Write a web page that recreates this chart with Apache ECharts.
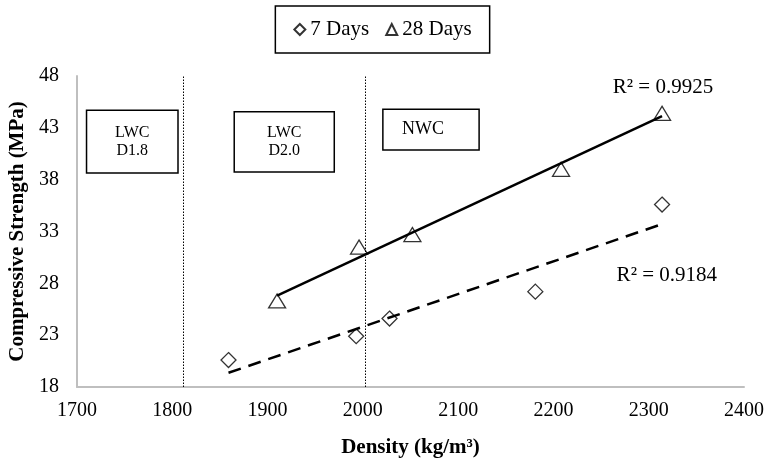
<!DOCTYPE html>
<html>
<head>
<meta charset="utf-8">
<script src="https://cdn.jsdelivr.net/npm/echarts@6/dist/echarts.min.js"></script>
<style>
html,body{margin:0;padding:0;background:#fff;}
#chart{width:765px;height:461px;}
</style>
</head>
<body>
<div id="chart"></div>
<script>
// ---- data ----
const days7X = [1859, 1993, 2028, 2181, 2314];
const days7Y = [20.6, 22.9, 24.6, 27.2, 35.6];
const days28X = [1910, 1996, 2052, 2208, 2314];
const days28Y = [26.3, 31.5, 32.7, 39.0, 44.4];
const seriesNames = ['7 Days', '28 Days'];
const r2Labels = ['R² = 0.9184', 'R² = 0.9925'];
const zoneLines = [1812, 2003];
const zoneNames = ['LWC\nD1.8', 'LWC\nD2.0', 'NWC'];
const zoneX = [[1710, 1806], [1865, 1970], [2021, 2122]];
const zoneY = [[38.65, 44.7], [38.75, 44.55], [40.85, 44.8]];
const r2Pos = [[2319, 28.8], [2315, 46.85]];

const FONT = '"Liberation Serif", "Times New Roman", serif';

function pairs(xs, ys) { return xs.map((x, i) => [x, ys[i]]); }
function fit(xs, ys) {
  const n = xs.length;
  const mx = xs.reduce((a, b) => a + b, 0) / n;
  const my = ys.reduce((a, b) => a + b, 0) / n;
  let sxy = 0, sxx = 0;
  for (let i = 0; i < n; i++) { sxy += (xs[i] - mx) * (ys[i] - my); sxx += (xs[i] - mx) ** 2; }
  const b = sxy / sxx, a = my - b * mx;
  const x0 = Math.min(...xs), x1 = Math.max(...xs);
  return [[x0, a + b * x0], [x1, a + b * x1]];
}

const chart = echarts.init(document.getElementById('chart'), null, {renderer: 'canvas'});
const markerStyle = {color: 'rgba(0,0,0,0)', borderColor: '#000', borderWidth: 1.3};

chart.setOption({
  backgroundColor: '#fff',
  animation: false,
  textStyle: {fontFamily: FONT, color: '#000'},
  grid: {left: 77, right: 21, top: 76, bottom: 74, containLabel: false, outerBoundsMode: 'none'},
  legend: {
    data: [{name: seriesNames[0], icon: 'diamond'}, {name: seriesNames[1], icon: 'triangle'}],
    top: 6, left: 'center',
    borderColor: '#000', borderWidth: 1.5,
    padding: [13, 18, 13, 18],
    itemWidth: 11, itemHeight: 11, itemGap: 16,
    textStyle: {fontFamily: FONT, fontSize: 21, color: '#000'}
  },
  xAxis: {
    type: 'value', min: 1700, max: 2400, interval: 100,
    name: 'Density (kg/m³)', nameLocation: 'middle', nameGap: 50,
    nameTextStyle: {fontFamily: FONT, fontSize: 21, fontWeight: 'bold', color: '#000'},
    axisLine: {show: true, lineStyle: {color: '#bfbfbf', width: 2}},
    axisTick: {show: false},
    splitLine: {show: false},
    axisLabel: {fontFamily: FONT, fontSize: 20, color: '#000', margin: 14, formatter: v => String(v)}
  },
  yAxis: {
    type: 'value', min: 18, max: 48, interval: 5,
    name: 'Compressive Strength (MPa)', nameLocation: 'middle', nameGap: 46,
    nameTextStyle: {fontFamily: FONT, fontSize: 21, fontWeight: 'bold', color: '#000'},
    axisLine: {show: true, lineStyle: {color: '#bfbfbf', width: 2}},
    axisTick: {show: false},
    splitLine: {show: false},
    axisLabel: {fontFamily: FONT, fontSize: 20, color: '#000', margin: 18}
  },
  series: [
    {
      name: seriesNames[0], type: 'scatter', symbol: 'diamond', symbolSize: 15,
      data: pairs(days7X, days7Y), itemStyle: markerStyle, z: 5,
      markLine: {
        silent: true, symbol: 'none', label: {show: false},
        lineStyle: {color: '#000', type: [1.5, 1.5], width: 1},
        data: zoneLines.map(v => ({xAxis: v}))
      },
      markArea: {
        silent: true,
        itemStyle: {color: '#fff', borderColor: '#000', borderWidth: 1.5},
        label: {show: true, position: 'inside', fontFamily: FONT, color: '#000', fontSize: 16, lineHeight: 18, align: 'center'},
        data: zoneNames.map((nm, i) => [
          {name: nm, xAxis: zoneX[i][0], yAxis: zoneY[i][1],
           label: nm === 'NWC' ? {fontSize: 18, offset: [-8, 0]} : {}},
          {xAxis: zoneX[i][1], yAxis: zoneY[i][0]}
        ])
      }
    },
    {
      name: seriesNames[1], type: 'scatter', symbol: 'triangle', symbolSize: [17, 14],
      data: pairs(days28X, days28Y), itemStyle: markerStyle, z: 5
    },
    {
      name: 'fit7', type: 'line', data: fit(days7X, days7Y), symbol: 'none',
      lineStyle: {color: '#000', width: 2.5, type: [13, 8]}, z: 4
    },
    {
      name: 'fit28', type: 'line', data: fit(days28X, days28Y), symbol: 'none',
      lineStyle: {color: '#000', width: 2.5}, z: 4
    }
  ]
});

// R² annotations placed through the chart's own coordinate conversion
const r2Graphics = r2Labels.map((txt, i) => {
  const p = chart.convertToPixel({gridIndex: 0}, r2Pos[i]);
  return {
    type: 'text', x: p[0], y: p[1], z: 10, silent: true,
    style: {text: txt, fontFamily: FONT, fontSize: 21, fill: '#000', align: 'center', verticalAlign: 'middle'}
  };
});
chart.setOption({graphic: r2Graphics});
</script>
</body>
</html>
